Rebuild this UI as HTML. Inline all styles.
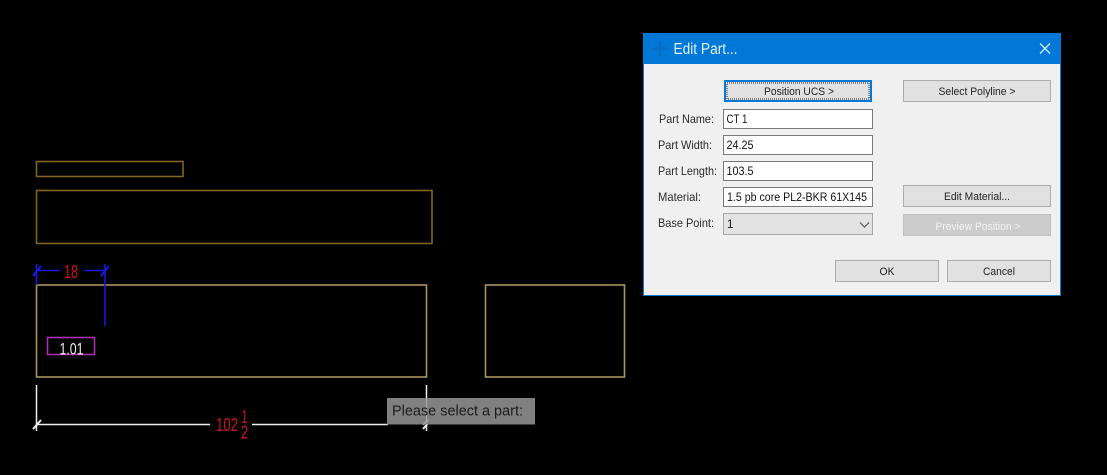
<!DOCTYPE html>
<html><head><meta charset="utf-8"><style>
html,body{margin:0;padding:0;background:#000;width:1107px;height:475px;overflow:hidden}
svg{display:block}
text{font-family:"Liberation Sans",sans-serif}
.l{font-size:12px;fill:#2a2a2a}
.b{font-size:11px;fill:#222;text-anchor:middle}
</style></head><body>
<svg width="1107" height="475" viewBox="0 0 1107 475" xmlns="http://www.w3.org/2000/svg">
<rect width="1107" height="475" fill="#000"/>
<!-- CAD shapes -->
<g fill="none">
<rect x="36.5" y="161.5" width="146.5" height="15" stroke="#806420" stroke-width="1.6"/>
<rect x="36.5" y="190.5" width="395.5" height="53" stroke="#806420" stroke-width="1.6"/>
<rect x="36.5" y="285" width="390" height="92" stroke="#a8955a" stroke-width="1.6"/>
<rect x="485.5" y="285" width="139" height="92" stroke="#a8955a" stroke-width="1.6"/>
<rect x="47.5" y="337.5" width="47" height="17" stroke="#a82fb0" stroke-width="1.6"/>
</g>
<!-- blue dimension -->
<g stroke="#1818e0" stroke-width="1.6" fill="none">
<path d="M36.5 264V285"/>
<path d="M105 264V326"/>
<path d="M36 270.5H60M84 270.5H105"/>
<path d="M33 276L41 266M101 276L109 266" stroke-width="2.2"/>
</g>
<text x="64" y="278" font-size="18.5" fill="#d01020" textLength="14" lengthAdjust="spacingAndGlyphs">18</text>
<text x="71.5" y="354.5" font-size="17" fill="#f2f2f2" text-anchor="middle" textLength="24" lengthAdjust="spacingAndGlyphs">1.01</text>
<!-- white dimension -->
<g stroke="#eeeeee" stroke-width="1.5" fill="none">
<path d="M36.5 385V431"/>
<path d="M426.5 385V431"/>
<path d="M36 424.5H210M252 424.5H388"/>
<path d="M33 429L41 420M423 429L430 421" stroke-width="2"/>
</g>
<text x="216" y="431" font-size="18" fill="#d01020" textLength="22" lengthAdjust="spacingAndGlyphs">102</text>
<text x="244.5" y="423" font-size="18" fill="#d01020" text-anchor="middle" textLength="6" lengthAdjust="spacingAndGlyphs">1</text>
<text x="244.5" y="438.5" font-size="18" fill="#d01020" text-anchor="middle" textLength="7" lengthAdjust="spacingAndGlyphs">2</text>
<!-- command tooltip -->
<rect x="387" y="398" width="148" height="26.5" fill="#808080"/>
<path d="M426.5 398V423" stroke="#a8a8a8" stroke-width="1.2"/>
<path d="M423 425L428 420" stroke="#a8a8a8" stroke-width="1.5"/>
<text x="392" y="415.5" font-size="15" fill="#1c1c1c" textLength="131" lengthAdjust="spacingAndGlyphs">Please select a part:</text>
<!-- dialog -->
<rect x="643.5" y="33.5" width="417" height="262" fill="#f0f0f0" stroke="#0a78d7"/>
<rect x="643" y="33" width="418" height="31" fill="#0078d7"/>
<path d="M660 41V56M652 48.5H668" stroke="#0b6cc2" stroke-width="2.5"/>
<text x="673.5" y="54" font-size="15.5" fill="#e4f1fc" textLength="64" lengthAdjust="spacingAndGlyphs">Edit Part...</text>
<path d="M1040 43.5L1050 53.5M1050 43.5L1040 53.5" stroke="#dcedfa" stroke-width="1.3"/>
<!-- buttons -->
<g shape-rendering="crispEdges">
<rect x="725" y="81" width="146" height="20" fill="#e1e1e1" stroke="#0078d7" stroke-width="2"/>
<rect x="727" y="83" width="142" height="16" fill="none" stroke="#222" stroke-dasharray="1 1"/>
<rect x="903.5" y="80.5" width="147" height="21" fill="#e1e1e1" stroke="#adadad"/>
<rect x="903.5" y="185.5" width="147" height="21" fill="#e1e1e1" stroke="#adadad"/>
<rect x="903.5" y="214.5" width="147" height="21" fill="#cccccc" stroke="#bfbfbf"/>
<rect x="835.5" y="260.5" width="103" height="21" fill="#e1e1e1" stroke="#adadad"/>
<rect x="947.5" y="260.5" width="103" height="21" fill="#e1e1e1" stroke="#adadad"/>
<!-- inputs -->
<rect x="723.5" y="109.5" width="149" height="19" fill="#fff" stroke="#7a7a7a"/>
<rect x="723.5" y="135.5" width="149" height="19" fill="#fff" stroke="#7a7a7a"/>
<rect x="723.5" y="161.5" width="149" height="19" fill="#fff" stroke="#7a7a7a"/>
<rect x="723.5" y="187.5" width="149" height="19" fill="#fff" stroke="#7a7a7a"/>
<rect x="723.5" y="213.5" width="149" height="21" fill="#e3e3e3" stroke="#a8a8a8"/>
</g>
<text class="b" x="799" y="95" textLength="70" lengthAdjust="spacingAndGlyphs">Position UCS &gt;</text>
<text class="b" x="977" y="95" textLength="77" lengthAdjust="spacingAndGlyphs">Select Polyline &gt;</text>
<text class="b" x="977" y="200" textLength="66" lengthAdjust="spacingAndGlyphs">Edit Material...</text>
<text class="b" x="978" y="230" textLength="85" lengthAdjust="spacingAndGlyphs" style="fill:#f4f4f4">Preview Position &gt;</text>
<text class="b" x="887" y="275" textLength="15" lengthAdjust="spacingAndGlyphs">OK</text>
<text class="b" x="999" y="275" textLength="32" lengthAdjust="spacingAndGlyphs">Cancel</text>
<text class="l" x="659" y="123" textLength="55" lengthAdjust="spacingAndGlyphs">Part Name:</text>
<text class="l" x="658" y="149" textLength="54" lengthAdjust="spacingAndGlyphs">Part Width:</text>
<text class="l" x="658" y="175" textLength="59" lengthAdjust="spacingAndGlyphs">Part Length:</text>
<text class="l" x="658" y="201" textLength="43" lengthAdjust="spacingAndGlyphs">Material:</text>
<text class="l" x="658" y="227" textLength="56" lengthAdjust="spacingAndGlyphs">Base Point:</text>
<text x="726.5" y="123" font-size="11.5" fill="#111" textLength="21" lengthAdjust="spacingAndGlyphs">CT 1</text>
<text x="726.5" y="149" font-size="11.5" fill="#111" textLength="27" lengthAdjust="spacingAndGlyphs">24.25</text>
<text x="726.5" y="175" font-size="11.5" fill="#111" textLength="27" lengthAdjust="spacingAndGlyphs">103.5</text>
<text x="727" y="201" font-size="11.5" fill="#111" textLength="140" lengthAdjust="spacingAndGlyphs">1.5 pb core PL2-BKR 61X145</text>
<text x="727" y="228" font-size="11.5" fill="#111">1</text>
<path d="M860 222.5L864.5 227L869 222.5" fill="none" stroke="#555" stroke-width="1.2"/>
</svg>
</body></html>
